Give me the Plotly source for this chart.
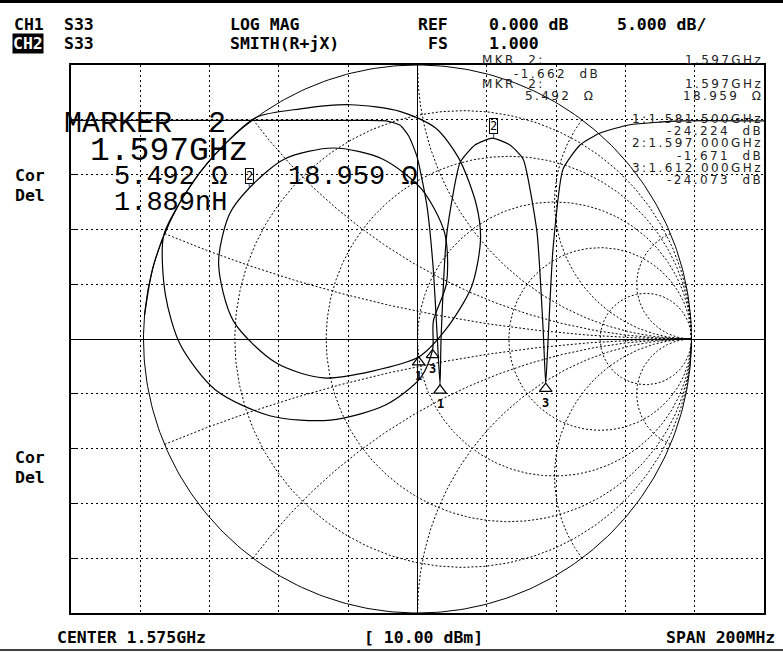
import numpy as np
import plotly.graph_objects as go

# ---------------- data ----------------
# CH1 : S33 LOG MAG (GHz, dB)
freq_ghz = [1.475, 1.500, 1.525, 1.550, 1.560, 1.566, 1.5700, 1.5725, 1.5749, 1.5777,
            1.5795, 1.5806, 1.5815, 1.5818, 1.5835, 1.5873, 1.5916, 1.5966,
            1.6017, 1.6055, 1.6095, 1.6113, 1.612, 1.6127, 1.6141, 1.6170,
            1.6219, 1.6277, 1.6363, 1.651, 1.675]
mag_db = [-0.05, -0.05, -0.05, -0.05, -0.05, -0.1, -0.5, -1.5, -3.4, -7.8,
          -13.4, -19.2, -24.2, -20.0, -10.3, -3.9, -2.3, -1.67,
          -2.3, -3.6, -10.3, -19.4, -24.07, -20.0, -11.8, -4.5,
          -2.3, -1.2, -0.45, -0.1, -0.1]

# CH2 : S33 SMITH (reflection coefficient, real / imag)
smith_re = [-0.996, -0.966, -0.906, -0.819, -0.707, -0.588,
            -0.427, -0.245, -0.062, 0.066, 0.150, 0.215, 0.230, 0.197, 0.102, 0.004,
            -0.164, -0.343, -0.515, -0.672, -0.726, -0.686, -0.614, -0.485, -0.307,
            -0.128, 0.015, 0.099, 0.106, 0.058, 0.055,
            0.011, -0.117, -0.318, -0.536, -0.737, -0.865, -0.920, -0.927, -0.866, -0.788]
smith_im = [0.087, 0.259, 0.423, 0.574, 0.707, 0.809,
            0.840, 0.855, 0.830, 0.770, 0.661, 0.489, 0.361, 0.190, 0.033, -0.066,
            -0.117, -0.142, -0.088, 0.066, 0.277, 0.456, 0.551, 0.657, 0.697,
            0.657, 0.547, 0.387, 0.204, 0.066, -0.040,
            -0.142, -0.241, -0.296, -0.281, -0.186, -0.022, 0.161, 0.375, 0.500, 0.616]

marker_freq = [1.5815, 1.597, 1.612]
marker_db = [-24.224, -1.671, -24.073]
smith_marker_re = [0.004, -0.614, 0.055]
smith_marker_im = [-0.066, 0.551, -0.040]
marker_labels = ["1", "2", "3"]

r_circles = [0.2, 0.5, 1.0, 2.0, 5.0]
x_arcs = [0.2, 0.5, 1.0, 2.0, 5.0]

# ---------------- layout geometry ----------------
W, H = 783, 653
L, R, T, B = 71, 764, 65, 613
HALFX = (R - L) / 2 / ((B - T) / 2)   # real-axis half range so the unit circle is round
DB_PER_PX = 50.0 / (B - T)
G_PER_PX = 2.0 / (B - T)

def P(x, y):
    return (x - L) / (R - L), (B - y) / (B - T)

fig = go.Figure()

# Smith grid (resistance circles + reactance arcs), dotted
gx, gy = [], []
t = np.linspace(0, 2 * np.pi, 361)
for r in r_circles:
    c, rad = r / (1 + r), 1 / (1 + r)
    gx += list(c + rad * np.cos(t)) + [None]
    gy += list(rad * np.sin(t)) + [None]
rr = np.concatenate([[0], np.logspace(-3, 3, 400)])
for xv in x_arcs:
    for s in (1, -1):
        z = rr + 1j * s * xv
        g = (z - 1) / (z + 1)
        gx += list(g.real) + [None]
        gy += list(g.imag) + [None]
fig.add_trace(go.Scatter(x=gx, y=gy, xaxis="x2", yaxis="y2", mode="lines",
                         line=dict(color="black", width=1, dash="2px,2px"),
                         hoverinfo="skip", showlegend=False))
fig.add_trace(go.Scatter(x=list(np.cos(t)), y=list(np.sin(t)), xaxis="x2", yaxis="y2",
                         mode="lines", line=dict(color="black", width=1),
                         hoverinfo="skip", showlegend=False))

# CH1 trace
fig.add_trace(go.Scatter(x=freq_ghz, y=mag_db, mode="lines",
                         line=dict(color="black", width=1.2, shape="spline", smoothing=0.5),
                         showlegend=False))
# CH2 trace
fig.add_trace(go.Scatter(x=smith_re, y=smith_im, xaxis="x2", yaxis="y2", mode="lines",
                         line=dict(color="black", width=1.2, shape="spline", smoothing=0.8),
                         showlegend=False))

ann = []
mono_b = "DejaVu Sans Mono"
def txt(x, y, s, size=13, fam=mono_b, bold=True, xa="left", color="black", **kw):
    px, py = P(x, y)
    ann.append(dict(x=px, y=py, xref="paper", yref="paper", text=s, showarrow=False,
                    xanchor=xa, yanchor="middle",
                    font=dict(family=fam, size=size, color=color, weight=700 if bold else 400), **kw))

HS = 16.5
# header
txt(12, 24, "CH1", HS)
txt(62, 24, "S33", HS)
txt(12, 43, "CH2", HS, color="white", bgcolor="black", borderpad=0)
txt(62, 43, "S33", HS)
txt(228, 24, "LOG MAG", HS)
txt(228, 43, "SMITH(R+jX)", HS)
txt(450, 24, "REF", HS, xa="right")
txt(450, 43, "FS", HS, xa="right")
txt(487, 24, "0.000 dB", HS)
txt(487, 43, "1.000", HS)
txt(615, 24, "5.000 dB/", HS)
# footer
txt(55, 637, "CENTER 1.575GHz", HS)
txt(362, 637, "[ 10.00 dBm]", HS)
txt(777, 637, "SPAN 200MHz", HS, xa="right")
# side labels
for y0 in (175, 457):
    txt(13, y0, "Cor", HS)
    txt(13, y0 + 20, "Del", HS)

# marker list (thin, wide spaced)
thin = "DejaVu Sans"
def sp(s):
    return "\u2009".join(s)
LC = "#222"
txt(480, 60, sp("MKR  2:"), 12, thin, False, color=LC)
txt(763, 60, sp("1.597GHz"), 12, thin, False, xa="right", color=LC)
txt(512, 74, sp("-1.662  dB"), 12, thin, False, color=LC)
txt(480, 84, sp("MKR  2:"), 12, thin, False, color=LC)
txt(763, 84, sp("1.597GHz"), 12, thin, False, xa="right", color=LC)
txt(523, 96, sp("5.492  Ω"), 12, thin, False, color=LC)
txt(763, 96, sp("18.959  Ω"), 12, thin, False, xa="right", color=LC)
rows = ["1:1.581 500GHz", "-24.224  dB", "2:1.597 000GHz", "-1.671  dB", "3:1.612 000GHz", "-24.073  dB"]
for i, s in enumerate(rows):
    txt(763, 119 + i * 12.2, sp(s), 12, thin, False, xa="right", color=LC)

# big marker readout
big = "Liberation Mono"
txt(62, 124, "MARKER  2", 30, big, False)
txt(88, 152, "1.597GHz", 33, big, False)
txt(112, 177, "5.492 Ω", 27, big, False)
txt(286, 177, "18.959 Ω", 27, big, False)
txt(112, 203, "1.889nH", 27, big, False)

def add_markers(xs, ys, xr, yr, per_px):
    tx, ty = [], []
    for lab, a, b in zip(marker_labels, xs, ys):
        if lab == "2":
            ann.append(dict(x=a, y=b, xref=xr, yref=yr, text=lab, showarrow=True, arrowhead=0,
                            ax=0, ay=-12, arrowwidth=1, bordercolor="black", borderwidth=1, borderpad=0,
                            font=dict(family=mono_b, size=12, color="black")))
        else:
            tx.append(a)
            ty.append(b - 5 * per_px)      # triangle apex sits on the trace point
            ann.append(dict(x=a, y=b, xref=xr, yref=yr, text="<b>" + lab + "</b>", showarrow=False,
                            yanchor="top", yshift=-10,
                            font=dict(family=mono_b, size=12, color="black")))
    fig.add_trace(go.Scatter(x=tx, y=ty, xaxis=xr, yaxis=yr, mode="markers",
                             marker=dict(symbol="triangle-up-open", size=11, color="black",
                                         line=dict(width=1.2, color="black")),
                             hoverinfo="skip", showlegend=False))

add_markers(marker_freq, marker_db, "x", "y", DB_PER_PX)
add_markers(smith_marker_re, smith_marker_im, "x2", "y2", G_PER_PX)

shapes = [
    dict(type="line", xref="paper", yref="paper", x0=P(0, 0)[0], x1=P(W, 0)[0], y0=P(0, 1.5)[1], y1=P(0, 1.5)[1],
         line=dict(color="black", width=3)),
    dict(type="line", xref="paper", yref="paper", x0=P(0, 0)[0], x1=P(W, 0)[0], y0=P(0, 650)[1], y1=P(0, 650)[1],
         line=dict(color="black", width=1.5)),
]

fig.update_layout(
    width=W, height=H, margin=dict(l=L, r=W - R, t=T, b=H - B),
    paper_bgcolor="white", plot_bgcolor="white", showlegend=False,
    annotations=ann, shapes=shapes,
    xaxis=dict(range=[1.475, 1.675], tick0=1.475, dtick=0.02, showgrid=True, gridcolor="black",
               griddash="2px,3px", gridwidth=1, zeroline=False, showline=True, mirror=True,
               linecolor="black", linewidth=1.5, ticks="", showticklabels=False),
    yaxis=dict(range=[-45, 5], tick0=0, dtick=5, showgrid=True, gridcolor="black",
               griddash="2px,3px", gridwidth=1, zeroline=False, showline=True, mirror=True,
               linecolor="black", linewidth=1.5, ticks="inside", ticklen=6, tickcolor="black",
               showticklabels=False),
    xaxis2=dict(range=[-HALFX, HALFX], overlaying="x", showgrid=False,
                zeroline=True, zerolinecolor="black", zerolinewidth=1, showticklabels=False, showline=False),
    yaxis2=dict(range=[-1, 1], overlaying="y", showgrid=False,
                zeroline=True, zerolinecolor="black", zerolinewidth=1, showticklabels=False, showline=False),
)

fig.write_html("out.html", config={"displayModeBar": False},
               post_script="document.body.style.margin='0px';document.body.style.overflow='hidden';")
